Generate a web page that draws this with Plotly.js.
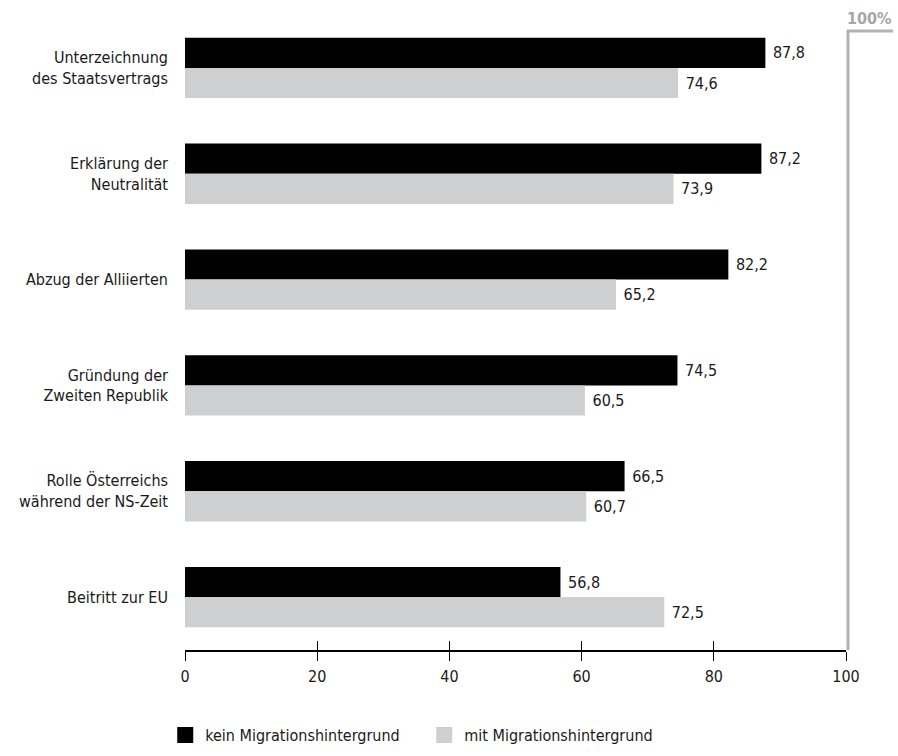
<!DOCTYPE html>
<html>
<head>
<meta charset="utf-8">
<script src="https://cdn.plot.ly/plotly-3.0.1.min.js"></script>
<style>html,body{margin:0;padding:0;background:#fff;}#chart{width:898px;height:756px;}</style>
</head>
<body>
<div id="chart"></div>
<script>
const categories = [
  "Unterzeichnung<br>des Staatsvertrags",
  "Erklärung der<br>Neutralität",
  "Abzug der Alliierten",
  "Gründung der<br>Zweiten Republik",
  "Rolle Österreichs<br>während der NS-Zeit",
  "Beitritt zur EU"
];
const keinMigration = [87.8, 87.2, 82.2, 74.5, 66.5, 56.8];
const mitMigration = [74.6, 73.9, 65.2, 60.5, 60.7, 72.5];
const xTicks = [0, 20, 40, 60, 80, 100];
const seriesNames = ["kein Migrationshintergrund", "mit Migrationshintergrund"];
const seriesColors = ["#000000", "#cdcfd1"];

const fontFam = "'Liberation Sans Narrow', 'DejaVu Sans Condensed', 'Open Sans', sans-serif";
const fmt = v => '\u00a0' + v.toFixed(1).replace('.', ',');

const traces = [
  {
    type: 'bar', orientation: 'h', name: seriesNames[0], showlegend: false,
    y: categories, x: keinMigration,
    marker: {color: seriesColors[0]},
    text: keinMigration.map(fmt), textposition: 'outside',
    textfont: {family: fontFam, size: 16, color: '#1a1a1a'},
    cliponaxis: false, hoverinfo: 'skip'
  },
  {
    type: 'bar', orientation: 'h', name: seriesNames[1], showlegend: false,
    y: categories, x: mitMigration,
    marker: {color: seriesColors[1]},
    text: mitMigration.map(fmt), textposition: 'outside',
    textfont: {family: fontFam, size: 16, color: '#1a1a1a'},
    cliponaxis: false, hoverinfo: 'skip'
  },
  {
    type: 'scatter', mode: 'markers', name: seriesNames[0], x: [null], y: [null],
    marker: {symbol: 'square', size: 18, color: seriesColors[0]}, hoverinfo: 'skip'
  },
  {
    type: 'scatter', mode: 'markers', name: seriesNames[1], x: [null], y: [null],
    marker: {symbol: 'square', size: 18, color: seriesColors[1]}, hoverinfo: 'skip'
  },
  {
    type: 'scatter', x: [0, 100], y: [categories[0], categories[0]],
    xaxis: 'x2', mode: 'none', showlegend: false, hoverinfo: 'skip'
  }
];

const layout = {
  width: 898, height: 756,
  margin: {l: 185, r: 52, t: 15, b: 106},
  paper_bgcolor: '#ffffff', plot_bgcolor: '#ffffff',
  font: {family: fontFam, size: 16, color: '#1a1a1a'},
  barmode: 'group', bargap: 0.43, bargroupgap: 0,
  showlegend: true,
  legend: {
    orientation: 'h', xref: 'container', x: 0.184, xanchor: 'left',
    yref: 'container', y: 0.005, yanchor: 'bottom',
    font: {family: fontFam, size: 16, color: '#1a1a1a'},
    itemwidth: 30, tracegroupgap: 0, entrywidth: 214, traceorder: 'normal'
  },
  xaxis: {
    range: [0, 100], tickvals: xTicks, ticktext: xTicks.map(String),
    showgrid: false, zeroline: false,
    showline: true, linecolor: '#000', linewidth: 2,
    ticks: 'outside', ticklen: 9, tickwidth: 1, tickcolor: '#000',
    ticklabelstandoff: 2,
    tickfont: {family: fontFam, size: 16, color: '#1a1a1a'},
    fixedrange: true
  },
  xaxis2: {
    overlaying: 'x', side: 'bottom', anchor: 'y', range: [0, 100],
    tickvals: xTicks, showticklabels: false,
    showgrid: false, zeroline: false, showline: false,
    ticks: 'inside', ticklen: 9, tickwidth: 1, tickcolor: '#000'
  },
  yaxis: {
    autorange: false, range: [5.5, -0.5],
    showgrid: false, zeroline: false, showline: false,
    ticks: '', ticklen: 0,
    tickfont: {family: fontFam, size: 16, color: '#1a1a1a'},
    automargin: false, ticklabelstandoff: 16
  },
  shapes: [
    {type: 'line', xref: 'paper', yref: 'paper', x0: 1.003, x1: 1.003, y0: 0, y1: 0.975,
     line: {color: '#b3b3b3', width: 3}},
    {type: 'line', xref: 'paper', yref: 'paper', x0: 1.001, x1: 1.071, y0: 0.975, y1: 0.975,
     line: {color: '#b3b3b3', width: 3}}
  ],
  annotations: [
    {text: '<b>100%</b>', xref: 'paper', yref: 'paper', x: 0.999, y: 0.976,
     xanchor: 'left', yanchor: 'bottom', showarrow: false,
     font: {family: fontFam, size: 16, color: '#a6a6a6'}}
  ]
};

Plotly.newPlot('chart', traces, layout, {displayModeBar: false, staticPlot: true});
</script>
</body>
</html>
